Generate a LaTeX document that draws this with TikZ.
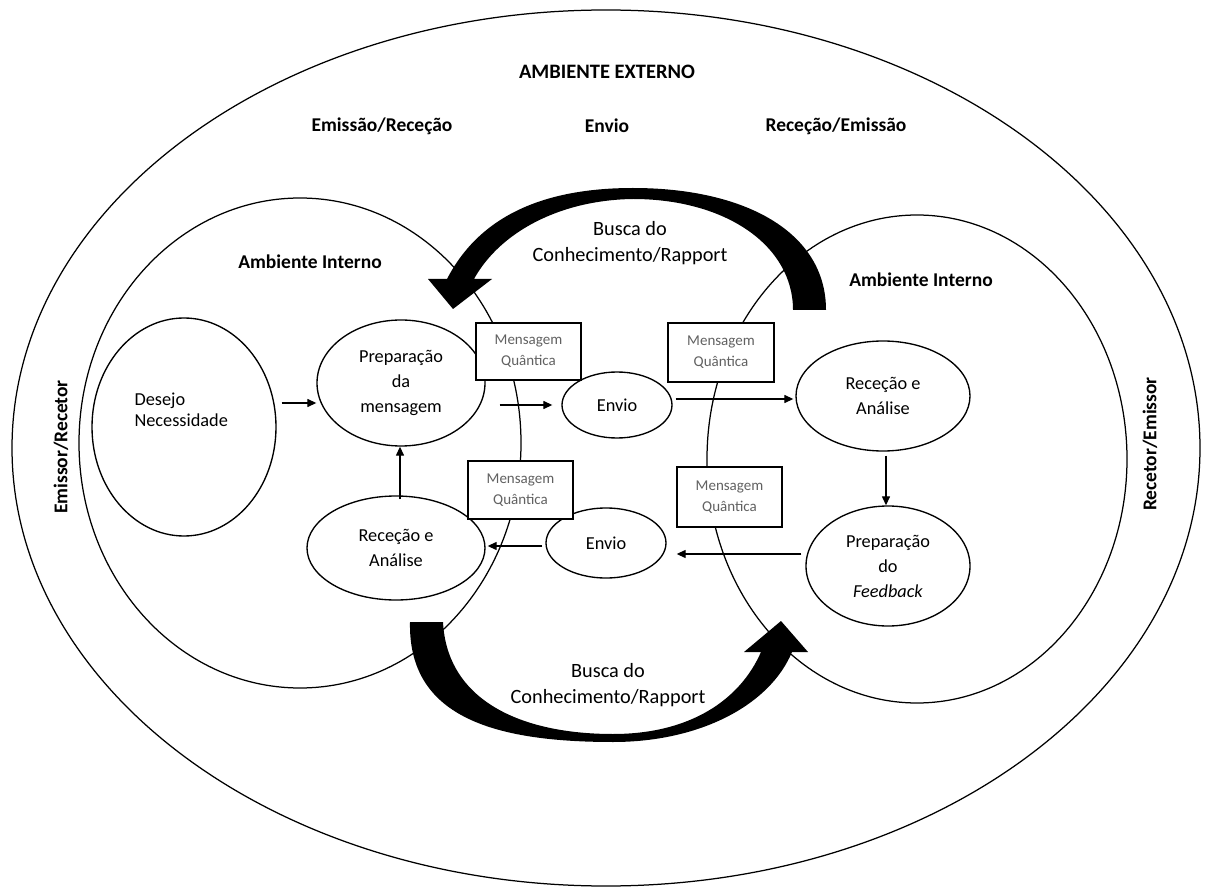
\documentclass[tikz,border=0pt]{standalone}
\usepackage{fontspec}
\setmainfont{Carlito}
\usetikzlibrary{shapes.geometric,arrows.meta}

\begin{document}
\begin{tikzpicture}[x=1pt,y=-1pt,
  ring/.style={ellipse, draw, line width=1.25pt, inner sep=0pt},
  bubble/.style={ellipse, draw, fill=white, line width=1.35pt, inner sep=0pt, align=center,
    font=\fontsize{18.3}{25}\selectfont},
  qbox/.style={draw, fill=white, line width=1.6pt, inner sep=0pt, align=center,
    text=black!62, font=\fontsize{15}{21}\selectfont},
  heading/.style={font=\bfseries\fontsize{19.5}{24}\selectfont},
  caption/.style={align=center, font=\fontsize{20.3}{26}\selectfont},
  flow/.style={-{Triangle[length=9pt,width=8pt]}, line width=1.3pt}]

\useasboundingbox (0,0) rectangle (1205,890);

% environments
\node[ring, minimum width=1188pt, minimum height=876pt] (ext) at (606,448) {};
\node[ring, minimum width=442pt, minimum height=490pt] (intL) at (300,443) {};
\node[ring, minimum width=420pt, minimum height=488pt] (intR) at (917,459) {};

% headings
\node[heading, font=\bfseries\fontsize{20.5}{24}\selectfont] (amb) at (607,72) {AMBIENTE EXTERNO};
\node[heading] (emrec) at (382,126) {Emissão/Receção};
\node[heading] (env) at (607,126) {Envio};
\node[heading] (recem) at (836,126) {Receção/Emissão};
\node[heading] (intLtxt) at (310,262) {Ambiente Interno};
\node[heading] (intRtxt) at (921,280) {Ambiente Interno};
\node[heading, rotate=90] (side1) at (61,447) {Emissor/Recetor};
\node[heading, rotate=90] (side2) at (1150,444) {Recetor/Emissor};

% circular search arrows
\fill (826,310) .. controls (826,232) and (745,188) .. (633,188)
  .. controls (545,188) and (480,215) .. (447,279)
  -- (428,279) -- (453,309) -- (492,279) -- (474,279)
  .. controls (500,232) and (560,200) .. (633,199)
  .. controls (725,199) and (793,245) .. (793,310) -- cycle;
\fill (410,622) .. controls (408,715) and (490,742) .. (613,742)
  .. controls (700,742) and (770,705) .. (792,652)
  -- (808,652) -- (781,621) -- (744,652) -- (761,652)
  .. controls (740,700) and (690,734) .. (613,734)
  .. controls (520,734) and (447,700) .. (443,622) -- cycle;
\node[caption] (buscaT) at (630,243) {Busca do\\Conhecimento/Rapport};
\node[caption] (buscaB) at (608,685) {Busca do\\Conhecimento/Rapport};

% process bubbles
\node[bubble, minimum width=184pt, minimum height=218pt] (desejo) at (184,427) {};
\node[anchor=west, align=left, font=\fontsize{18.3}{21.5}\selectfont] (desejotxt) at (131,410) {Desejo\\Necessidade};
\node[bubble, minimum width=168pt, minimum height=126pt] (prep) at (401,383) {Preparação\\da\\mensagem};
\node[bubble, minimum width=178pt, minimum height=104pt] (rec1) at (396,548) {Receção e\\Análise};
\node[bubble, minimum width=110pt, minimum height=66pt] (envio1) at (617,405) {Envio};
\node[bubble, minimum width=120pt, minimum height=70pt] (envio2) at (606,543) {Envio};
\node[bubble, minimum width=174pt, minimum height=110pt] (rec2) at (883,396) {Receção e\\Análise};
\node[bubble, minimum width=164pt, minimum height=120pt] (fb) at (888,566) {Preparação\\do\\\textit{Feedback}};

% quantum message boxes
\node[qbox, minimum width=105pt, minimum height=57pt] (q1) at (528.5,351.5) {Mensagem\\Quântica};
\node[qbox, minimum width=106pt, minimum height=59pt] (q2) at (721,352.5) {Mensagem\\Quântica};
\node[qbox, minimum width=105pt, minimum height=58pt] (q3) at (520.5,490) {Mensagem\\Quântica};
\node[qbox, minimum width=105pt, minimum height=60pt] (q4) at (729.5,497) {Mensagem\\Quântica};

% message flow
\draw[flow] ([xshift=5pt]desejo.east |- 0,403) -- (prep.west |- 0,403);
\draw[flow] ([xshift=14pt]prep.east |- 0,405) -- ([xshift=-9pt]envio1.west |- 0,405);
\draw[flow] ([xshift=3pt]envio1.east |- 0,399) -- ([xshift=-2pt]rec2.west |- 0,399);
\draw[flow] ([yshift=-4pt]rec2.south -| 886,0) -- (fb.north -| 886,0);
\draw[flow] ([xshift=-4pt]fb.west |- 0,554) -- ([xshift=10pt]envio2.east |- 0,554);
\draw[flow] ([xshift=-3pt]envio2.west |- 0,546) -- ([xshift=2pt]rec1.east |- 0,546);
\draw[flow] ([yshift=-4pt]rec1.north -| 400,0) -- (prep.south -| 400,0);
\end{tikzpicture}
\end{document}
